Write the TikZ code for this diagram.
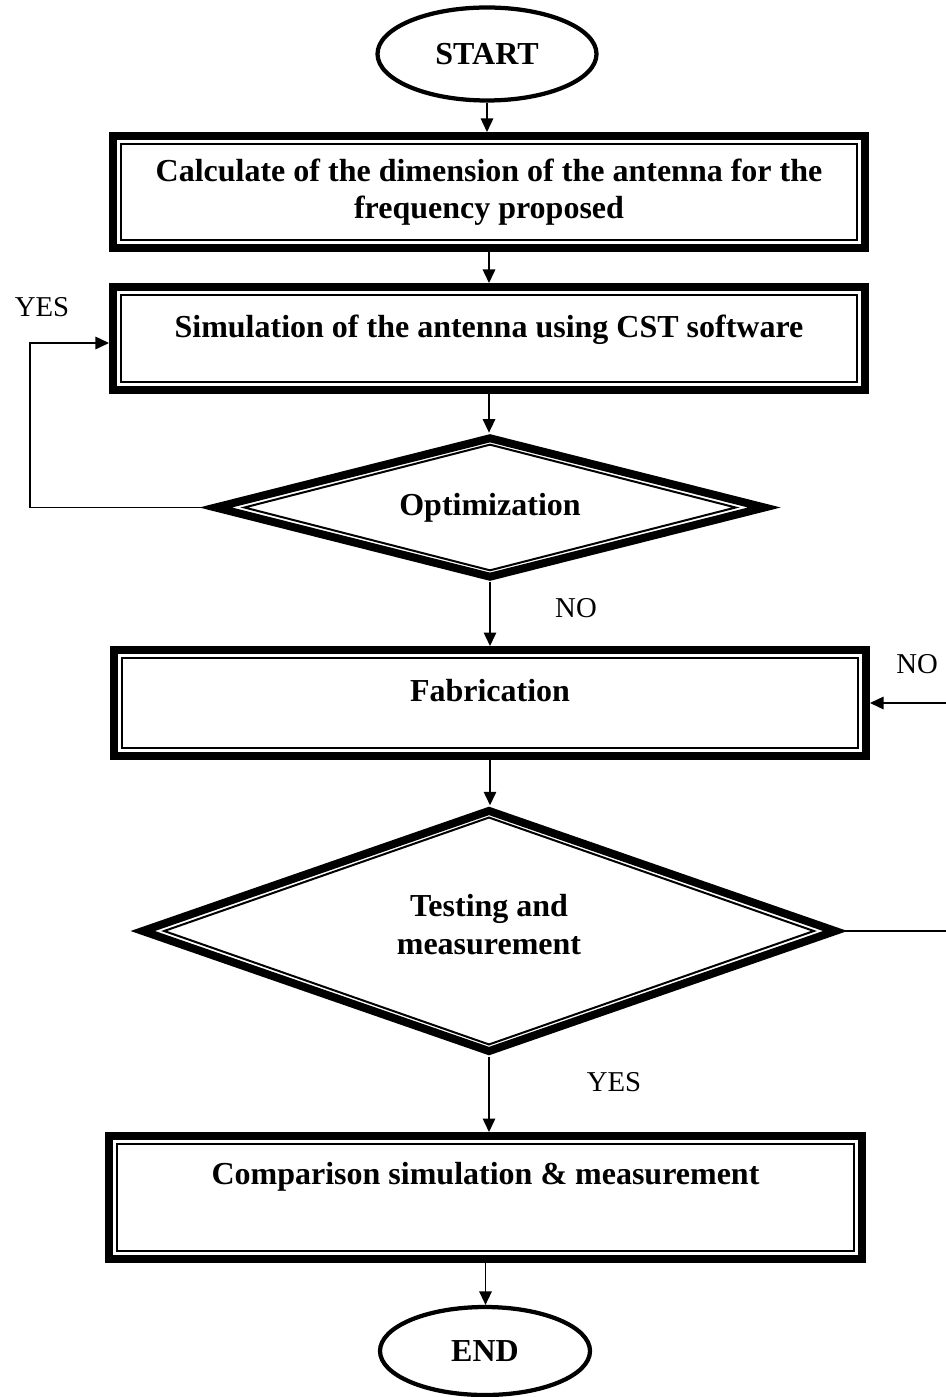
\documentclass[tikz,border=0pt]{standalone}
\usepackage{fontspec}
\setmainfont{Liberation Serif}
\usetikzlibrary{shapes.geometric,arrows.meta}

\begin{document}
\begin{tikzpicture}[x=0.4pt, y=-0.4pt,
  every node/.style={font=\fontsize{12.8}{15}\selectfont\bfseries, inner sep=0pt, align=center},
  terminal/.style={ellipse, draw, line width=1.7pt},
  process/.style={rectangle, draw, line width=3.2pt, minimum width=300.8pt},
  decision/.style={diamond, draw, line width=3.2pt},
  innerdec/.style={diamond, draw, line width=0.8pt},
  flow/.style={line width=0.6pt, -{Triangle[length=5.4pt,width=5pt]}},
  answer/.style={font=\fontsize{11.5}{14}\selectfont}]

\useasboundingbox (0,0) rectangle (945,1397);

\node[terminal, minimum width=87.6pt, minimum height=37.2pt] (start) at (487,54) {START};
\node[process, minimum height=44.8pt] (calc) at (489,192) {Calculate of the dimension of the antenna for the\\frequency proposed};
\node[process, minimum height=41.2pt, text height=8.5pt, text depth=9.3pt] (sim) at (489,338.5) {Simulation of the antenna using CST software};
\node[decision, aspect=3.9, minimum width=220.8pt, minimum height=56.7pt] (opt) at (490,507.5) {Optimization};
\node[innerdec, aspect=3.9, minimum width=196.8pt, minimum height=50.6pt] (optin) at (opt.center) {};
\node[process, minimum height=42.4pt, text height=8.5pt, text depth=9.7pt] (fab) at (490,703) {Fabrication};
\node[decision, aspect=2.85, minimum width=278.3pt, minimum height=97.4pt, text depth=5.2pt] (test) at (489,931) {Testing and\\measurement};
\node[innerdec, aspect=2.85, minimum width=260.2pt, minimum height=91.1pt] (testin) at (test.center) {};
\node[process, minimum height=49.2pt, text height=8.5pt, text depth=18.9pt] (comp) at (485.5,1197.5) {Comparison simulation \& measurement};
\node[terminal, minimum width=84pt, minimum height=35.2pt] (end) at (485,1351) {END};

\foreach \n in {calc,sim,fab,comp}
  \draw[line width=0.8pt] ([shift={(12,12)}]\n.north west) rectangle ([shift={(-12,-12)}]\n.south east);

\draw[flow] (start.south) -- (start.south |- calc.north);
\draw[flow] (calc.south) -- (calc.south |- sim.north);
\draw[flow] (sim.south) -- (sim.south |- opt.north);
\draw[flow] (opt.south) -- (opt.south |- fab.north);
\draw[flow] (fab.south) -- (fab.south |- test.north);
\draw[flow] (test.south) -- (test.south |- comp.north);
\draw[flow] (comp.south) -- (comp.south |- end.north);

\coordinate (loopl) at (30,343);
\draw[flow] (opt.west) -| (loopl) -- (loopl -| sim.west);
\coordinate (loopr) at (947,703);
\draw[flow] (test.east) -| (loopr) -- (fab.east);

\node[answer] (yesl) at (42,307) {YES};
\node[answer] (noo) at (576,608) {NO};
\node[answer] (nor) at (917,664) {NO};
\node[answer] (yest) at (614,1082) {YES};

\end{tikzpicture}
\end{document}
